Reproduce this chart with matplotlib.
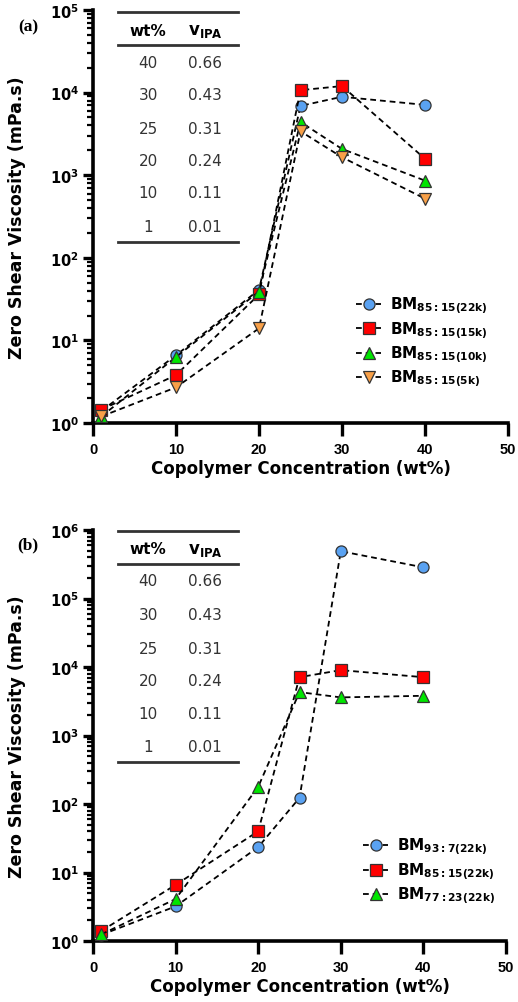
import math
import matplotlib
matplotlib.use("Agg")
import matplotlib.pyplot as plt
from matplotlib.lines import Line2D
from matplotlib.ticker import FixedLocator, NullFormatter, FuncFormatter

plt.rcParams['font.family'] = ['Liberation Sans', 'DejaVu Sans']

# ---------------- data ----------------
conc = [1, 10, 20, 25, 30, 40]

# panel (a)
a_labels = ["85{:}15(22k)", "85{:}15(15k)", "85{:}15(10k)", "85{:}15(5k)"]
a_22k = [1.4, 6.6, 41, 6900, 8900, 7100]
a_15k = [1.45, 3.8, 36, 10700, 12000, 1580]
a_10k = [1.2, 6.3, 39, 4400, 2080, 860]
a_5k = [1.2, 2.7, 14, 3400, 1650, 520]

# panel (b)
b_labels = ["93{:}7(22k)", "85{:}15(22k)", "77{:}23(22k)"]
b_93 = [1.23, 3.2, 23.5, 123, 490000, 285000]
b_85 = [1.4, 6.6, 40, 7100, 9000, 7100]
b_77 = [1.25, 4.1, 178, 4300, 3600, 3800]

table_wt = ["40", "30", "25", "20", "10", "1"]
table_v = ["0.66", "0.43", "0.31", "0.24", "0.11", "0.01"]

x_ticks = [0, 10, 20, 30, 40, 50]

# ---------------- styles ----------------
BLUE = "#5aa2f2"
RED = "#ff0000"
GREEN = "#00e600"
ORANGE = "#f8a048"
EDGE = "#333333"

W, H = 518, 1003
fig = plt.figure(figsize=(W / 100, H / 100), dpi=100)


def px(x, y):
    return x / W, 1 - y / H


def make_axes(left, right, top, bottom):
    l, b = px(left, bottom)
    r, t = px(right, top)
    return fig.add_axes([l, b, r - l, t - b])


def style_axes(ax, ymax_exp):
    ax.set_yscale('log')
    ax.set_xlim(0, 50)
    ax.set_ylim(1, 10 ** ymax_exp)
    for s in ['top', 'right']:
        ax.spines[s].set_visible(False)
    for s in ['left', 'bottom']:
        ax.spines[s].set_linewidth(2.6)
    ax.xaxis.set_major_locator(FixedLocator(x_ticks))
    majors = [10.0 ** k for k in range(0, ymax_exp + 1)]
    minors = [m * 10.0 ** k for k in range(0, ymax_exp) for m in range(2, 10)]
    ax.yaxis.set_major_locator(FixedLocator(majors))
    ax.yaxis.set_minor_locator(FixedLocator(minors))
    ax.yaxis.set_minor_formatter(NullFormatter())
    ax.yaxis.set_major_formatter(FuncFormatter(
        lambda v, p: r"$\mathbf{10^{%d}}$" % round(math.log10(v))))
    ax.tick_params(axis='x', which='major', length=9, width=2.4, direction='out',
                   labelsize=10.5, pad=5)
    ax.tick_params(axis='y', which='major', length=7, width=2.4, direction='out',
                   labelsize=10.5, pad=3)
    ax.tick_params(axis='y', which='minor', length=4, width=1.6, direction='out')
    for lab in ax.get_xticklabels():
        lab.set_fontweight('bold')
    ax.set_xlabel("Copolymer Concentration (wt%)", fontsize=12, fontweight='bold',
                  labelpad=2, family=['DejaVu Sans'])
    ax.set_ylabel("Zero Shear Viscosity (mPa.s)", fontsize=12.5, fontweight='bold',
                  labelpad=17, family=['DejaVu Sans'])


def plot_series(ax, y, marker, color, label):
    ax.plot(conc, y, linestyle=(0, (3.2, 2.2)), color='black', linewidth=1.3,
            marker=marker, markersize=8 if marker == 'o' else 8.5,
            markerfacecolor=color, markeredgecolor=EDGE, markeredgewidth=0.9,
            label=r"$\mathbf{BM}_{\mathbf{%s}}$" % label, zorder=3)


def draw_table(x0, x1, ytop, yhead, ybot, yhdr, rows_y):
    for yy in [ytop, yhead, ybot]:
        (fx0, fy), (fx1, _) = px(x0, yy), px(x1, yy)
        fig.add_artist(Line2D([fx0, fx1], [fy, fy], color='#333333', linewidth=2.0))
    c1, c2 = 148, 205
    fig.text(*px(c1, yhdr), "wt%", ha='center', va='center', fontsize=11,
             fontweight='bold', family=['DejaVu Sans'])
    fig.text(*px(c2, yhdr), r"$\mathbf{v}_{\mathbf{IPA}}$", ha='center', va='center',
             fontsize=12, family=['DejaVu Sans'])
    for w, v, yy in zip(table_wt, table_v, rows_y):
        fig.text(*px(c1, yy), w, ha='center', va='center', fontsize=11,
                 color='#333333', family=['DejaVu Sans'])
        fig.text(*px(c2, yy), v, ha='center', va='center', fontsize=11,
                 color='#333333', family=['DejaVu Sans'])


LEG = dict(frameon=False, fontsize=11, handlelength=1.6, handletextpad=0.6,
           labelspacing=0.2, borderaxespad=0)

# ---------------- panel (a) ----------------
ax1 = make_axes(93, 508, 11, 424)
style_axes(ax1, 5)
plot_series(ax1, a_22k, 'o', BLUE, a_labels[0])
plot_series(ax1, a_15k, 's', RED, a_labels[1])
plot_series(ax1, a_10k, '^', GREEN, a_labels[2])
plot_series(ax1, a_5k, 'v', ORANGE, a_labels[3])
ax1.legend(loc='upper left', bbox_to_anchor=(0.62, 0.325), **LEG)
draw_table(118, 238, 13, 46, 243, 31, [63, 96, 129, 161, 194, 227])
fig.text(*px(28, 27), "(a)", ha='center', va='center', fontsize=12.5,
         fontweight='bold', family=['Liberation Serif', 'DejaVu Serif'])

# ---------------- panel (b) ----------------
ax2 = make_axes(93, 506, 531, 942)
style_axes(ax2, 6)
plot_series(ax2, b_93, 'o', BLUE, b_labels[0])
plot_series(ax2, b_85, 's', RED, b_labels[1])
plot_series(ax2, b_77, '^', GREEN, b_labels[2])
ax2.legend(loc='upper left', bbox_to_anchor=(0.64, 0.27), **LEG)
draw_table(118, 238, 532, 565, 763, 550, [582, 616, 649, 682, 715, 747])
fig.text(*px(28, 545), "(b)", ha='center', va='center', fontsize=12.5,
         fontweight='bold', family=['Liberation Serif', 'DejaVu Serif'])

fig.savefig("out.png", dpi=100)
